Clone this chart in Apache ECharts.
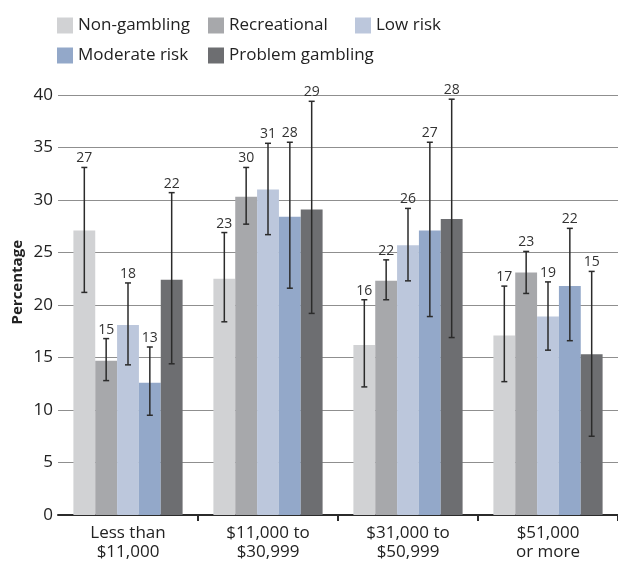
<!DOCTYPE html>
<html>
<head>
<meta charset="utf-8">
<script src="https://cdn.jsdelivr.net/npm/echarts@6/dist/echarts.min.js"></script>
<style>
  html, body { margin: 0; padding: 0; background: #fff; }
  #chart { width: 618px; height: 561px; }
</style>
</head>
<body>
<div id="chart"></div>
<script>
const categories = ['Less than\n$11,000', '$11,000 to\n$30,999', '$31,000 to\n$50,999', '$51,000\nor more']
const seriesNames = ['Non-gambling', 'Recreational', 'Low risk', 'Moderate risk', 'Problem gambling']
const colors = ['#d1d2d4', '#a7a8ab', '#bcc7dc', '#93a8c9', '#6d6e71']

// bar heights, per series across the 4 income groups
const nonGambling = [27.1, 22.5, 16.2, 17.1]
const recreational = [14.7, 30.3, 22.3, 23.1]
const lowRisk = [18.1, 31.0, 25.7, 18.9]
const moderateRisk = [12.6, 28.4, 27.1, 21.8]
const problemGambling = [22.4, 29.1, 28.2, 15.3]

// confidence interval ends
const lowerCI = [
  [21.2, 18.4, 12.2, 12.7],
  [12.8, 27.7, 20.5, 21.1],
  [14.3, 26.7, 22.3, 15.7],
  [9.5, 21.6, 18.9, 16.6],
  [14.4, 19.2, 16.9, 7.5]
]
const upperCI = [
  [33.1, 26.9, 20.5, 21.8],
  [16.8, 33.1, 24.3, 25.1],
  [22.1, 35.4, 29.2, 22.2],
  [16.0, 35.5, 35.5, 27.3],
  [30.7, 39.4, 39.6, 23.2]
]
// printed labels above the whiskers
const labels = [
  [27, 23, 16, 17],
  [15, 30, 22, 23],
  [18, 31, 26, 19],
  [13, 28, 27, 22],
  [22, 29, 28, 15]
]

const yTicks = { min: 0, max: 40, interval: 5 }

const values = [nonGambling, recreational, lowRisk, moderateRisk, problemGambling]
const FONT = '"Open Sans", "Noto Sans", sans-serif'
const gapRatio = 0.22

// legend slots laid out like the printed key (2 rows)
const legendPos = [[57, 17], [208, 17], [355, 17], [57, 47], [208, 47]]

const chart = echarts.init(document.getElementById('chart'))

const barSeries = seriesNames.map((name, i) => ({
  name: name,
  type: 'bar',
  data: values[i],
  barGap: '0%',
  barCategoryGap: '22%',
  itemStyle: { color: colors[i] },
  z: 2
}))

const errSeries = seriesNames.map((name, i) => ({
  name: name,
  type: 'custom',
  data: categories.map((c, j) => [j, lowerCI[i][j], upperCI[i][j], labels[i][j]]),
  encode: { x: 0, y: [1, 2] },
  z: 5,
  silent: true,
  renderItem: function (params, api) {
    const band = api.size([1, 0])[0]
    const barW = band * (1 - gapRatio) / seriesNames.length
    const lo = api.coord([api.value(0), api.value(1)])
    const hi = api.coord([api.value(0), api.value(2)])
    const x = lo[0] + (i - (seriesNames.length - 1) / 2) * barW
    const cap = 3
    const style = { stroke: '#2b2b2b', lineWidth: 1.5 }
    return {
      type: 'group',
      children: [
        { type: 'line', shape: { x1: x, y1: lo[1], x2: x, y2: hi[1] }, style: style },
        { type: 'line', shape: { x1: x - cap, y1: lo[1], x2: x + cap, y2: lo[1] }, style: style },
        { type: 'line', shape: { x1: x - cap, y1: hi[1], x2: x + cap, y2: hi[1] }, style: style },
        {
          type: 'text',
          style: {
            text: String(api.value(3)),
            x: x,
            y: hi[1] - 2,
            align: 'center',
            verticalAlign: 'bottom',
            fill: '#333',
            font: '14px ' + FONT
          }
        }
      ]
    }
  }
}))

const legends = seriesNames.map((name, i) => ({
  data: [name],
  left: legendPos[i][0],
  top: legendPos[i][1],
  padding: 0,
  itemWidth: 16,
  itemHeight: 16,
  icon: 'rect',
  textStyle: { fontSize: 17, color: '#222', padding: [0, 0, 0, 0] }
}))

const option = {
  animation: false,
  textStyle: { fontFamily: FONT },
  color: colors,
  legend: legends,
  grid: { left: 58, right: 0, top: 95, bottom: 46, containLabel: false, outerBoundsMode: 'none' },
  xAxis: {
    type: 'category',
    data: categories,
    axisLine: { lineStyle: { color: '#2b2b2b', width: 2 } },
    axisTick: {
      show: true,
      length: 6,
      lineStyle: { color: '#2b2b2b', width: 2 },
      interval: (idx) => idx !== 0
    },
    axisLabel: {
      fontSize: 17,
      lineHeight: 19,
      color: '#222',
      margin: 9,
      interval: 0
    }
  },
  yAxis: {
    type: 'value',
    min: yTicks.min,
    max: yTicks.max,
    interval: yTicks.interval,
    axisLine: { show: false },
    axisTick: { show: false },
    axisLabel: { fontSize: 17, color: '#222', margin: 5 },
    splitLine: { lineStyle: { color: '#8f8f8f', width: 1 } }
  },
  graphic: [
    {
      type: 'text',
      left: 10,
      top: 240,
      rotation: Math.PI / 2,
      style: {
        text: 'Percentage',
        font: 'bold 15px ' + FONT,
        fill: '#222'
      }
    }
  ],
  series: barSeries.concat(errSeries)
}

chart.setOption(option)
</script>
</body>
</html>
